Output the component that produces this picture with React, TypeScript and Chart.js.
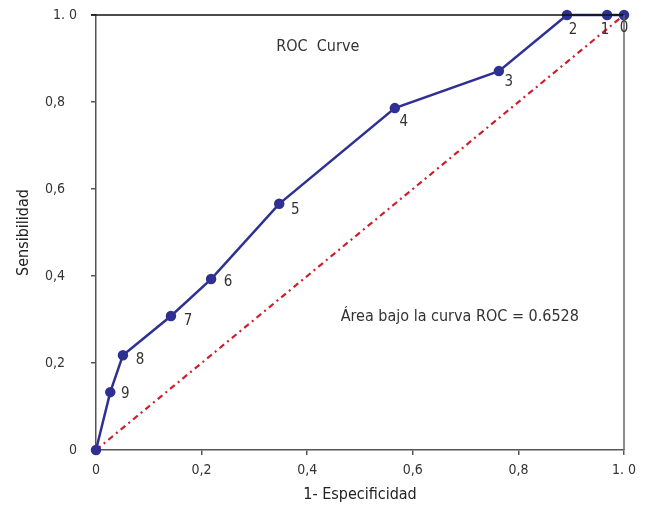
import React, { useEffect, useRef } from 'react';
import { Chart, registerables } from 'chart.js';

Chart.register(...registerables);

const FONT = "'Liberation Sans Narrow', 'DejaVu Sans Condensed', 'Arial Narrow', sans-serif";

// ROC curve points (1 - specificity, sensitivity)
const fpr = [0, 0.027, 0.051, 0.142, 0.218, 0.347, 0.566, 0.763, 0.892, 0.968, 1.0];
const tpr = [0, 0.133, 0.218, 0.308, 0.393, 0.566, 0.786, 0.871, 1.0, 1.0, 1.0];
const pointLabels = ['', '9', '8', '7', '6', '5', '4', '3', '2', '1', '0'];

// Reference diagonal
const diagX = [0, 1];
const diagY = [0, 1];

// Axis ticks
const xTickValues = [0, 0.2, 0.4, 0.6, 0.8, 1.0];
const xTickLabels = ['0', '0,2', '0,4', '0,6', '0,8', '1. 0'];
const yTickValues = [0, 0.2, 0.4, 0.6, 0.8, 1.0];
const yTickLabels = ['0', '0,2   ', '0,4   ', '0,6   ', '0,8   ', '1. 0'];

const titleText = 'ROC  Curve';
const areaText = 'Área bajo la curva ROC = 0.6528';
const xTitle = '1- Especificidad';
const yTitle = 'Sensibilidad';

// label placement offsets (px) relative to each point
const labelOffsets: [number, number][] = [
  [0, 0], [15, 2], [17, 5], [17, 5], [17, 3], [16, 6], [9, 14], [10, 11], [6, 15], [-2, 15], [0, 13],
];

const overlayPlugin = {
  id: 'overlay',
  afterDatasetsDraw(chart: any) {
    const { ctx, chartArea, scales } = chart;
    const xs = scales.x;
    const ys = scales.y;
    ctx.save();
    // top border (black) and right border (grey)
    ctx.lineWidth = 1.5;
    ctx.strokeStyle = '#111111';
    ctx.beginPath();
    ctx.moveTo(chartArea.left - 5, chartArea.top);
    ctx.lineTo(chartArea.right, chartArea.top);
    ctx.stroke();
    ctx.strokeStyle = '#666666';
    ctx.beginPath();
    ctx.moveTo(chartArea.right, chartArea.top);
    ctx.lineTo(chartArea.right, chartArea.bottom);
    ctx.stroke();

    // point labels
    ctx.fillStyle = '#333333';
    ctx.font = `15px ${FONT}`;
    ctx.textAlign = 'center';
    ctx.textBaseline = 'middle';
    for (let i = 0; i < fpr.length; i++) {
      if (!pointLabels[i]) continue;
      const px = xs.getPixelForValue(fpr[i]);
      const py = ys.getPixelForValue(tpr[i]);
      ctx.fillText(pointLabels[i], px + labelOffsets[i][0], py + labelOffsets[i][1]);
    }

    // annotations
    ctx.font = `16px ${FONT}`;
    ctx.fillText(titleText, xs.getPixelForValue(0.42), ys.getPixelForValue(0.926));
    ctx.fillText(areaText, xs.getPixelForValue(0.689), ys.getPixelForValue(0.306));
    ctx.restore();
  },
};

export default function App() {
  const ref = useRef<HTMLCanvasElement | null>(null);

  useEffect(() => {
    document.body.style.margin = '0';
    const canvas = ref.current;
    if (!canvas) return;
    const chart = new Chart(canvas, {
      type: 'scatter',
      data: {
        datasets: [
          {
            label: 'ROC',
            data: fpr.map((x, i) => ({ x, y: tpr[i] })),
            showLine: true,
            borderColor: '#2e3192',
            backgroundColor: '#2e3192',
            borderWidth: 2.5,
            pointRadius: 4,
            pointHoverRadius: 4,
            clip: false,
            order: 1,
          },
          {
            label: 'Diagonal',
            data: diagX.map((x, i) => ({ x, y: diagY[i] })),
            showLine: true,
            borderColor: '#cc1f2d',
            borderWidth: 2.2,
            borderDash: [6, 4, 2, 4],
            pointRadius: 0,
            clip: false,
            order: 2,
          },
        ],
      },
      options: {
        animation: false,
        responsive: false,
        maintainAspectRatio: false,
        layout: { padding: { top: 15, right: 22, left: 0, bottom: 0 } },
        plugins: {
          legend: { display: false },
          tooltip: { enabled: false },
        },
        scales: {
          x: {
            type: 'linear',
            min: 0,
            max: 1,
            afterFit: (s: any) => { s.height = 57; s.paddingLeft = 0; s.paddingRight = 0; },
            afterBuildTicks: (s: any) => { s.ticks = xTickValues.map((v) => ({ value: v })); },
            ticks: {
              color: '#333333',
              font: { family: FONT, size: 14 },
              padding: 7,
              maxRotation: 0,
              autoSkip: false,
              callback: (_v: any, i: number) => xTickLabels[i],
            },
            grid: { drawOnChartArea: false, drawTicks: true, tickLength: 5, color: '#555555', lineWidth: 1.5 },
            border: { display: true, color: '#555555', width: 1.5 },
            title: {
              display: true,
              text: xTitle,
              color: '#222222',
              font: { family: FONT, size: 16 },
              padding: { top: 0, bottom: 3 },
            },
          },
          y: {
            type: 'linear',
            min: 0,
            max: 1,
            afterFit: (s: any) => { s.width = 96; s.paddingTop = 0; s.paddingBottom = 0; },
            afterBuildTicks: (s: any) => { s.ticks = yTickValues.map((v) => ({ value: v })); },
            ticks: {
              color: '#333333',
              font: { family: FONT, size: 14 },
              padding: 14,
              autoSkip: false,
              callback: (_v: any, i: number) => yTickLabels[i],
            },
            grid: { drawOnChartArea: false, drawTicks: true, tickLength: 5, color: '#555555', lineWidth: 1.5 },
            border: { display: true, color: '#555555', width: 1.5 },
            title: {
              display: true,
              text: yTitle,
              color: '#222222',
              font: { family: FONT, size: 16 },
              padding: { top: 14, bottom: 0 },
            },
          },
        },
      },
      plugins: [overlayPlugin],
    });
    return () => chart.destroy();
  }, []);

  return (
    <div style={{ width: 646, height: 507, background: '#ffffff' }}>
      <canvas ref={ref} width={646} height={507} style={{ display: 'block' }} />
    </div>
  );
}
